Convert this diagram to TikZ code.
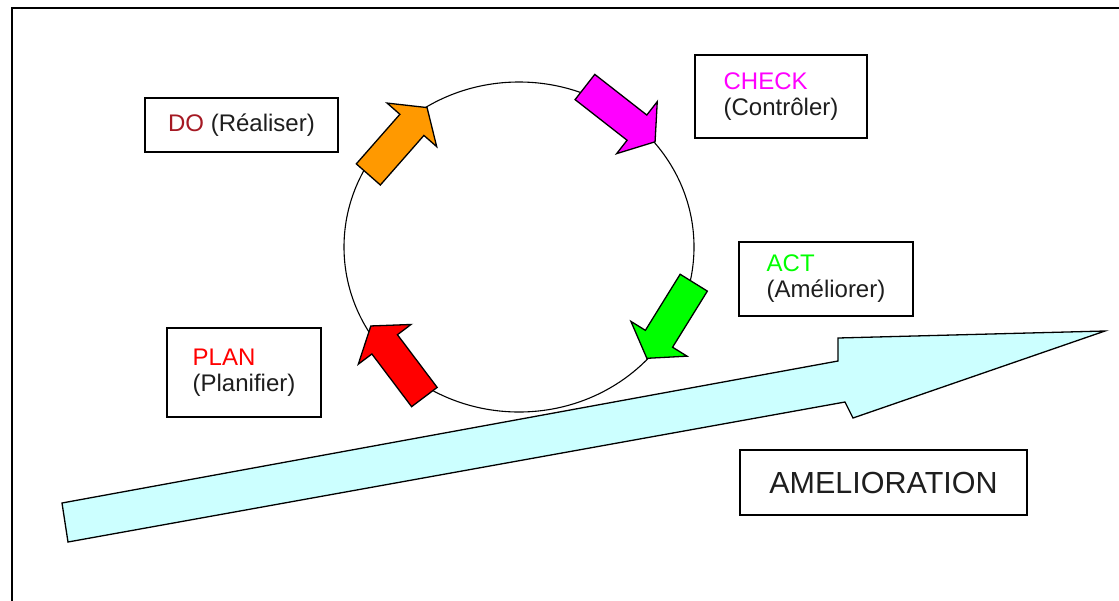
\documentclass[tikz,border=0pt]{standalone}
\usepackage{fontspec}
\setmainfont{Liberation Sans}
\usetikzlibrary{shapes.geometric}
\definecolor{orangeDo}{RGB}{255,153,0}
\definecolor{magCheck}{RGB}{255,0,255}
\definecolor{vertAct}{RGB}{0,255,0}
\definecolor{rougePlan}{RGB}{255,0,0}
\definecolor{rougeDo}{RGB}{165,25,35}
\definecolor{cyanAmelio}{RGB}{204,255,255}
\definecolor{texte}{RGB}{30,30,30}
\begin{document}
\begin{tikzpicture}[
    x=1pt, y=-1pt,
    etape/.style={draw, rectangle, line width=1.5pt, fill=white, align=left, text=texte, font=\fontsize{24}{26}\selectfont, inner sep=0pt},
    fleche/.style={draw, line width=1.3pt, line join=miter},
    roue/.style={draw, ellipse, line width=1.1pt, minimum width=350pt, minimum height=330pt, inner sep=0pt}
]
\useasboundingbox (0,0) rectangle (1119,600);
\clip (0,0) rectangle (1119,600);
% cadre
\draw[line width=2.5pt] (12,620) -- (12,8) -- (1140,8);

% cercle PDCA
\node[roue] (cercle) at (519,247) {};

% 4 flèches du cycle
\foreach \cx/\cy/\ang/\col in {397.7/141/48.7/orangeDo, 620/114.4/-38/magCheck, 670.3/320.5/-121.8/vertAct, 397.6/361.5/127/rougePlan} {
    \draw[fleche, fill=\col, shift={(\cx,\cy)}, rotate=\ang] (-44.5,-16) -- (21.5,-16) -- (21.5,-33) -- (44.5,0) -- (21.5,33) -- (21.5,16) -- (-44.5,16) -- cycle;
}

% flèche d'amélioration
\draw[fleche, fill=cyanAmelio] (62,503) -- (838,361) -- (838,338) -- (1105,331) -- (853,418) -- (845,402) -- (68,542) -- cycle;

% étapes
\node[etape, minimum width=193pt, minimum height=54pt] (do) at (241.5,125) {\textcolor{rougeDo}{DO} (Réaliser)};
\node[etape, minimum width=172pt, minimum height=83pt] (check) at (781,96.5) {\textcolor{magCheck}{CHECK}\\(Contrôler)};
\node[etape, minimum width=174pt, minimum height=74pt] (act) at (826,279) {\textcolor{vertAct}{ACT}\\(Améliorer)};
\node[etape, minimum width=154pt, minimum height=89pt] (plan) at (244,372.5) {\textcolor{rougePlan}{PLAN}\\(Planifier)};
\node[etape, minimum width=287pt, minimum height=65pt, font=\fontsize{30.5}{32}\selectfont] (amelio) at (883.5,482.5) {AMELIORATION};
\end{tikzpicture}
\end{document}
